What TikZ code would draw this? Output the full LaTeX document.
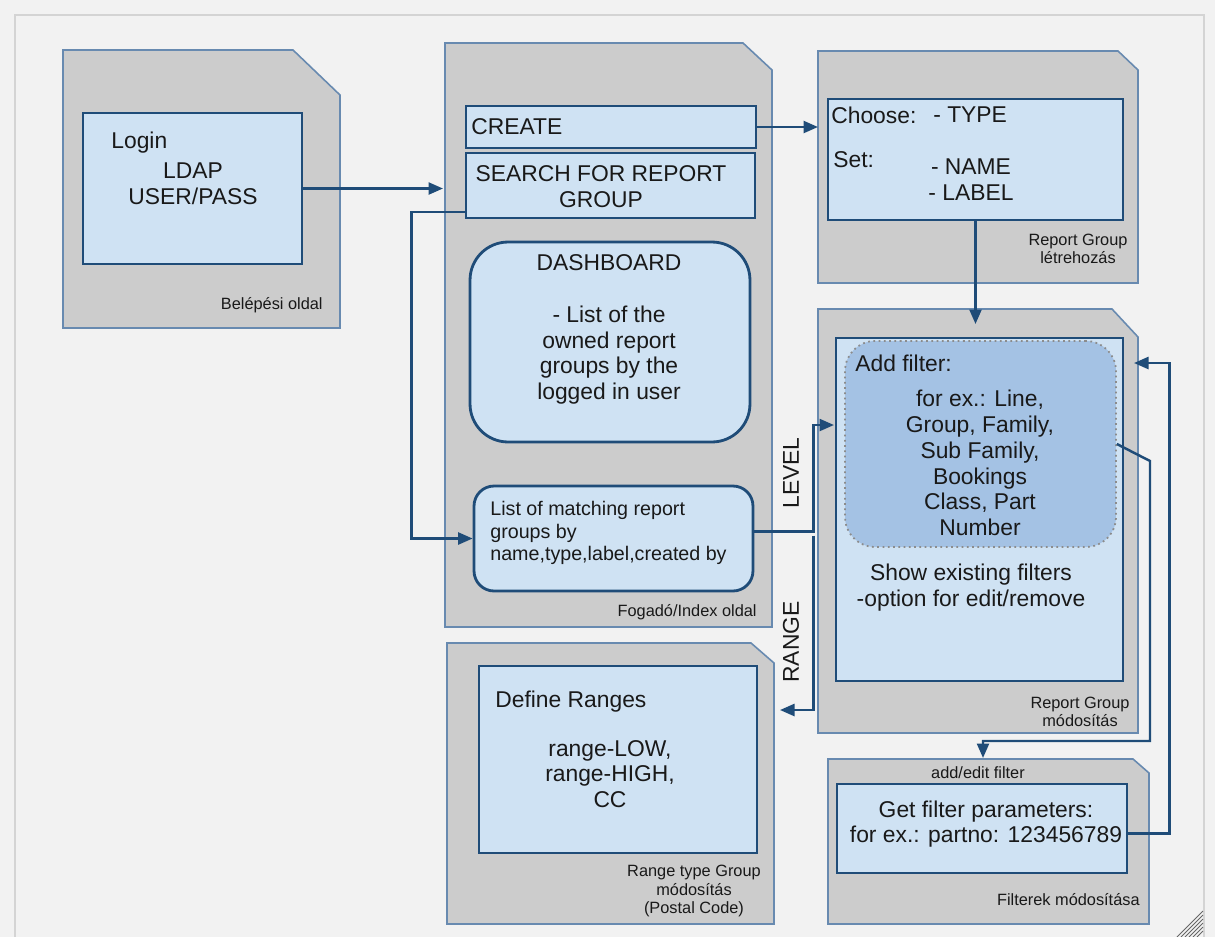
\documentclass[tikz,border=0pt]{standalone}
\usepackage{fontspec}
\setmainfont{Liberation Sans}
\usepackage{xcolor}
\usepackage{tikz}
\usetikzlibrary{arrows.meta, positioning, calc}
\definecolor{fondGris}{RGB}{242, 242, 242}
\definecolor{cadreGris}{RGB}{212, 212, 212}
\definecolor{pageGris}{RGB}{204, 204, 204}
\definecolor{pageBord}{RGB}{104, 138, 176}
\definecolor{bleuPale}{RGB}{207, 226, 243}
\definecolor{bleuMoyen}{RGB}{164, 194, 228}
\definecolor{bleuFonce}{RGB}{31, 76, 120}
\definecolor{encre}{RGB}{25, 25, 25}

\begin{document}
\begin{tikzpicture}[x=0.02cm, y=-0.02cm,
  pagefond/.style={draw=pageBord, line width=0.9pt, fill=pageGris},
  boite/.style={rectangle, draw=bleuFonce, line width=1.6pt,
    fill=bleuPale, inner sep=0pt},
  arrondi/.style={boite, rounded corners=#1},
  pointille/.style={rectangle, draw=black!45, dotted, line width=1pt,
    fill=bleuMoyen, rounded corners=0.6cm, inner sep=0pt},
  txt/.style={font=\fontsize{13}{14.7}\selectfont, text=encre,
    inner sep=0pt, align=center},
  petit/.style={font=\fontsize{11.2}{12.8}\selectfont, text=encre,
    inner sep=0pt, align=left},
  legende/.style={font=\fontsize{9.3}{10.6}\selectfont, text=encre,
    inner sep=0pt, align=center},
  arr/.style={-{Triangle[length=2.9mm, width=2.4mm]}, line width=1.4pt,
    draw=bleuFonce},
]
\useasboundingbox (0,0) rectangle (1215,937);
\fill[fondGris] (0,0) rectangle (1215,937);
\draw[cadreGris, line width=1.2pt] (15,937) -- (15,15) -- (1204,15) -- (1204,937);
\foreach \d in {6,10,...,26}
  \draw[black!60, line width=0.5pt] (1203-\d,937) -- (1203,937-\d);

% pages
\draw[pagefond] (63,50) -- (293,50) -- (340,95) -- (340,328) -- (63,328) -- cycle;
\draw[pagefond] (445,43) -- (743,43) -- (772,70) -- (772,627) -- (445,627) -- cycle;
\draw[pagefond] (818,51) -- (1118,51) -- (1138,70) -- (1138,283) -- (818,283) -- cycle;
\draw[pagefond] (818,309) -- (1112,309) -- (1138,337) -- (1138,733) -- (818,733) -- cycle;
\draw[pagefond] (447,643) -- (751,643) -- (774,663) -- (774,924) -- (447,924) -- cycle;
\draw[pagefond] (828,759) -- (1133,759) -- (1149,773) -- (1149,924) -- (828,924) -- cycle;

% boites
\node[boite, minimum width=4.38cm, minimum height=3.02cm] (login) at (192.5,188.5) {};
\node[boite, minimum width=5.8cm, minimum height=0.84cm] (create) at (611,127) {};
\node[boite, minimum width=5.78cm, minimum height=1.3cm] (search) at (610.5,185.5) {};
\node[arrondi=0.76cm, minimum width=5.6cm, minimum height=4cm] (dash) at (610,342) {};
\node[arrondi=0.4cm, minimum width=5.58cm, minimum height=2.1cm] (list) at (613.5,538.5) {};
\node[boite, minimum width=5.9cm, minimum height=2.42cm] (crbox) at (975.5,159.5) {};
\node[boite, minimum width=5.74cm, minimum height=6.86cm] (modbox) at (979.5,509.5) {};
\node[pointille, minimum width=5.42cm, minimum height=4.12cm] (filt) at (980.5,444) {};
\node[boite, minimum width=5.56cm, minimum height=3.74cm] (rngbox) at (618,759.5) {};
\node[boite, minimum width=5.8cm, minimum height=1.78cm] (getbox) at (982,828.5) {};

% entrees
\coordinate (idxIn) at (443,188.5);
\coordinate (crIn)  at (818,127);
\coordinate (modIn) at (975.5,324);
\coordinate (lvlIn) at (834,425);
\coordinate (rngIn) at (780,710);
\coordinate (coude) at (1150,461);
\coordinate (fltIn) at (983,758);
\coordinate (retIn) at (1134,363);

% textes
\node[txt, anchor=west] (tlogin) at (111,143) {Login};
\node[txt] (tldap) at (193,184) {LDAP\\USER/PASS};
\node[legende, anchor=east] (tbel) at (323,305) {Belépési oldal};
\node[txt, anchor=west] (tcreate) at (471,127) {CREATE};
\node[txt] (tsearch) at (601,186.5) {SEARCH FOR REPORT\\GROUP};
\node[txt] (tdash) at (609,329.5)
  {DASHBOARD\\[14.7pt]- List of the\\owned report\\groups by the\\logged in user};
\node[petit, anchor=west] (tlist) at (490,533)
  {List of matching report\\groups by\\name,type,label,created by};
\node[legende, anchor=east] (tfog) at (757,612) {Fogadó/Index oldal};
\node[txt, anchor=west] (tchoose) at (831,115) {Choose:};
\node[txt, anchor=west] (ttype) at (933,115) {- TYPE};
\node[txt, anchor=west] (tset) at (833,160) {Set:};
\node[txt] (tname) at (971,180) {- NAME\\- LABEL};
\node[legende] (tcrlbl) at (1078,249) {Report Group\\létrehozás};
\node[txt, anchor=west] (tadd) at (855,363) {Add filter:};
\node[txt] (tfor) at (980,463)
  {for ex.: Line,\\Group, Family,\\Sub Family,\\Bookings\\Class, Part\\Number};
\node[txt] (tshow) at (971,588) {Show existing filters\\-option for edit/remove};
\node[legende] (tmodlbl) at (1080,712) {Report Group\\módosítás};
\node[txt, anchor=west] (tdef) at (495,702) {Define Ranges};
\node[txt] (trange) at (610,774) {range-LOW,\\range-HIGH,\\CC};
\node[legende] (trnglbl) at (694,891) {Range type Group\\módosítás\\(Postal Code)};
\node[legende] (tadded) at (978,773) {add/edit filter};
\node[txt] (tget) at (986,824) {Get filter parameters:\\for ex.: partno: 123456789};
\node[legende, anchor=east] (tfltlbl) at (1140,900) {Filterek módosítása};
\node[txt, rotate=90] (tlevel) at (791,473) {LEVEL};
\node[txt, rotate=90] (trng) at (791,642) {RANGE};

% connecteurs
\draw[arr] (login.east) -- (idxIn);
\draw[arr] ([yshift=0.15cm]search.south west) -- ++(-53,0) |- (list.west);
\draw[arr] (create.east) -- (crIn);
\draw[arr] (crbox.south) -- (modIn);
\draw[arr] ([yshift=0.14cm]list.east) -- ++(59,0) |- (lvlIn);
\draw[arr] ([yshift=0.14cm]list.east) ++(59,4) |- (rngIn);
\draw[arr] (filt.east) -- (coude) |- ([yshift=0.34cm]fltIn) -- (fltIn);
\draw[arr] ([yshift=-0.1cm]getbox.east) -- ++(41,0) |- (retIn);
\end{tikzpicture}
\end{document}
